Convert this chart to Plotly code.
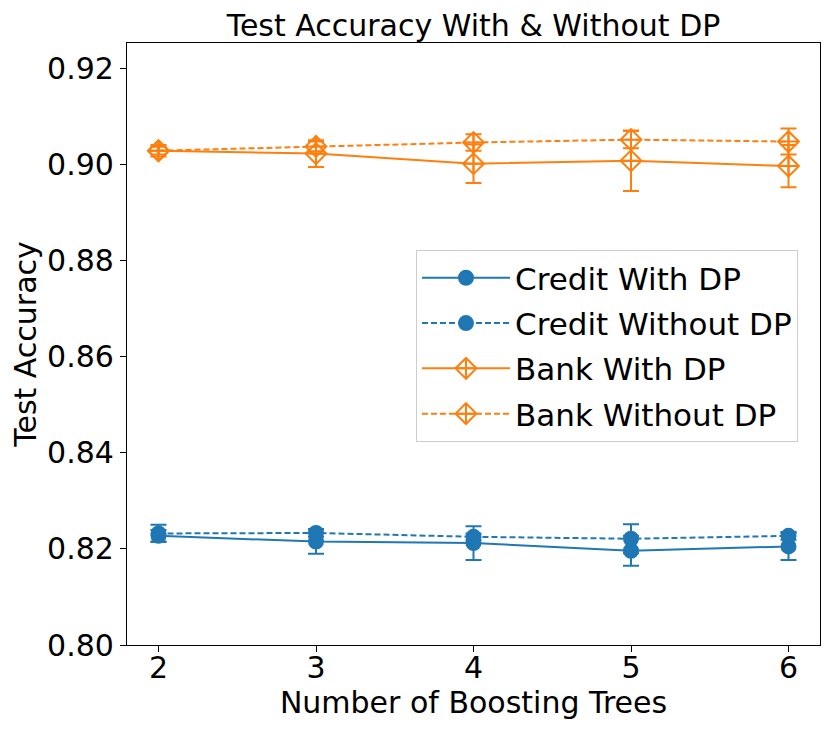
import plotly.graph_objects as go

# number of boosting trees on x
n_trees = [2, 3, 4, 5, 6]

# credit dataset
credit_dp = [0.8227, 0.8215, 0.8212, 0.8196, 0.8205]
credit_dp_err = [0.0012, 0.0025, 0.0035, 0.0031, 0.0028]
credit_nodp = [0.8232, 0.8233, 0.8225, 0.8221, 0.8227]
credit_nodp_err = [0.0018, 0.0008, 0.0007, 0.0030, 0.0008]

# bank dataset
bank_dp = [0.9028, 0.9022, 0.9001, 0.9007, 0.8996]
bank_dp_err = [0.0008, 0.0028, 0.0040, 0.0063, 0.0044]
bank_nodp = [0.9028, 0.9037, 0.9045, 0.9051, 0.9047]
bank_nodp_err = [0.0012, 0.0010, 0.0017, 0.0018, 0.0027]

y_ticks = [0.80, 0.82, 0.84, 0.86, 0.88, 0.90, 0.92]

BLUE = "#1f77b4"
ORANGE = "#ff7f0e"
FONT = "DejaVu Sans"
FS = 30

fig = go.Figure()

def add_series(name, y, err, color, dash, symbol):
    fig.add_trace(go.Scatter(
        x=n_trees, y=y, name=name, mode="lines+markers", legendgroup=name,
        line=dict(color=color, width=2, dash=dash),
        marker=dict(symbol=symbol, size=14 if symbol == "circle" else 16,
                    color=color, line=dict(color=color, width=2)),
        error_y=dict(type="data", array=err, visible=True,
                     color=color, thickness=2, width=8),
    ))

add_series("Credit With DP", credit_dp, credit_dp_err, BLUE, "solid", "circle")
add_series("Credit Without DP", credit_nodp, credit_nodp_err, BLUE, "6px,3px", "circle")
add_series("Bank With DP", bank_dp, bank_dp_err, ORANGE, "solid", "diamond-cross-open")
add_series("Bank Without DP", bank_nodp, bank_nodp_err, ORANGE, "6px,3px", "diamond-cross-open")

axis_style = dict(
    showline=True, linecolor="black", linewidth=1.2, mirror=True,
    ticks="outside", ticklen=6, tickcolor="black", showgrid=False,
    zeroline=False, tickfont=dict(family=FONT, size=FS, color="black"),
)

# page body has an 8px margin, so the figure is a bit smaller than the window
fig.update_layout(
    width=814, height=718,
    margin=dict(l=119, r=2, t=35, b=81),
    paper_bgcolor="white", plot_bgcolor="white",
    font=dict(family=FONT, size=FS, color="black"),
    title=dict(text="Test Accuracy With & Without DP", xref="paper", x=0.5,
               xanchor="center", yref="container", y=0.976, yanchor="middle",
               font=dict(family=FONT, size=FS)),
    xaxis=dict(range=[1.8, 6.2], tickvals=n_trees, ticklabelstandoff=-10,
               title=dict(text="Number of Boosting Trees", standoff=3,
                          font=dict(family=FONT, size=FS)),
               **axis_style),
    yaxis=dict(range=[0.80, 0.9252], tickvals=y_ticks,
               ticktext=[f"{v:.2f}" for v in y_ticks],
               title=dict(text="Test Accuracy", standoff=8,
                          font=dict(family=FONT, size=FS)),
               **axis_style),
    legend=dict(x=0.417, y=0.656, xanchor="left", yanchor="top",
                bgcolor="white", bordercolor="#cccccc", borderwidth=1,
                font=dict(family=FONT, size=31), itemwidth=88,
                tracegroupgap=2),
    showlegend=True,
)

fig.write_html("out.html")
